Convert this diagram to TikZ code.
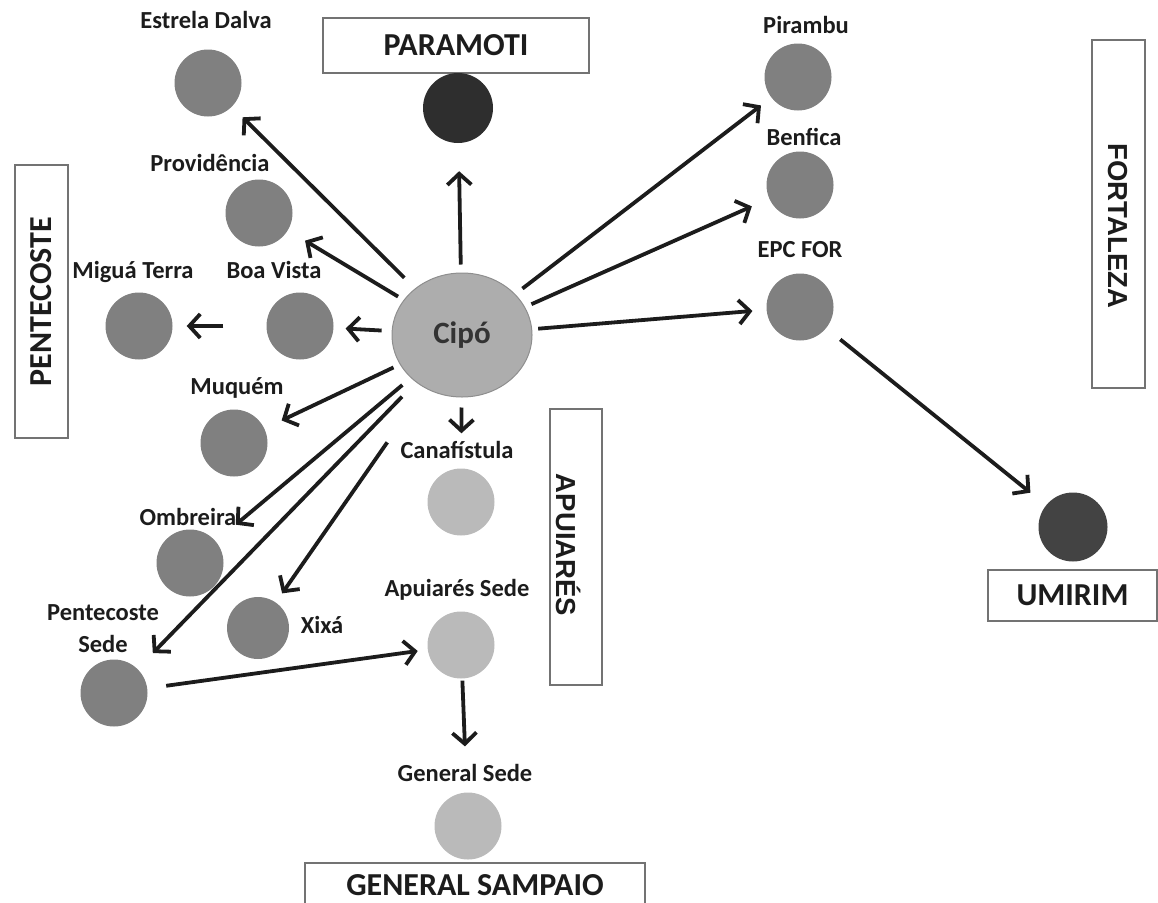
\documentclass[tikz,border=0pt]{standalone}
\usepackage{fontspec}
\setmainfont{Carlito}
\newfontfamily\arialfont{Liberation Sans}
\usepackage{xcolor}
\usetikzlibrary{arrows.meta,positioning,shapes.geometric}
\definecolor{midgray}{HTML}{808080}
\definecolor{lightgray}{HTML}{BABABA}
\definecolor{darkgray}{HTML}{2E2E2E}
\definecolor{cipofill}{HTML}{ADADAD}
\definecolor{cipoline}{HTML}{8E8E8E}
\definecolor{inkgray}{HTML}{1C1C1C}

\begin{document}
\begin{tikzpicture}[ x=1pt, y=-1pt, >={Straight Barb[length=11pt,width=24pt]},
      town/.style={circle, fill=midgray, minimum size=67pt, inner sep=0pt},
      lbl/.style={text=inkgray, inner sep=0pt, font=\bfseries\fontsize{24.5}{32}\selectfont},
      region/.style={draw=black!55, line width=1.6pt, fill=white, inner sep=0pt,
        text=inkgray, font=\bfseries\fontsize{32}{36}\selectfont},
      arialtext/.style={text=inkgray, inner sep=0pt, font=\arialfont\bfseries\fontsize{27.5}{30}\selectfont},
      arr/.style={->, line width=3.8pt, draw=inkgray} ]

      \useasboundingbox (0,0) rectangle (1158,902);

      % Municipality boxes
      \node[region, minimum width=266pt, minimum height=55pt] (paramoti) at (456,45.5) {PARAMOTI};
      \node[region, rotate=90, minimum width=273pt, minimum height=53pt] (pentecoste) at (41.5,301.5) {PENTECOSTE};
      \node[region, rotate=-90, minimum width=276pt, minimum height=52pt] (apuiaresbox) at (576,547) {};
      \node[arialtext, rotate=-90] (apuiares-t) at (569,545) {APUIARÉS};
      \node[region, rotate=-90, minimum width=348pt, minimum height=53pt] (fortaleza) at (1118.5,214) {};
      \node[arialtext, rotate=-90] (fortaleza-t) at (1118,226) {FORTALEZA};
      \node[region, minimum width=169pt, minimum height=51pt] (umirimbox) at (1072.5,595.5) {UMIRIM};
      \node[region, minimum width=340pt, minimum height=44pt] (generalbox) at (475,885) {GENERAL SAMPAIO};

      % Centre
      \node[ellipse, fill=cipofill, draw=cipoline, line width=1pt, minimum width=140pt,
        minimum height=124pt, inner sep=0pt, text=black!80,
        font=\bfseries\fontsize{31}{32}\selectfont] (cipo) at (462,335) {Cipó};

      % Towns
      \foreach \n/\x/\y in {estrela/208/83, pirambu/798/77, benfica/800/185, epcfor/800/307,
        providencia/259/213, migua/139/326, boavista/300/326, muquem/234/443,
        ombreira/190/563, pentsede/114/693}
        \node[town] (\n) at (\x,\y) {};
      \node[town, minimum size=62pt] (xixa) at (258,628) {};
      \node[town, fill=darkgray, minimum size=70pt] (pmt) at (458,108) {};
      \node[town, fill=darkgray!90!white, minimum size=69pt] (umirim) at (1073,527) {};
      \foreach \n/\x/\y in {canafistula/461/502, apuiares/461/645, general/468/826}
        \node[town, fill=lightgray] (\n) at (\x,\y) {};

      % Town names
      \node[lbl] (estrela-l) at (206,20) {Estrela Dalva};
      \node[lbl] (pirambu-l) at (806,25) {Pirambu};
      \node[lbl] (benfica-l) at (804,137) {Benfica};
      \node[lbl] (epcfor-l) at (800,250) {EPC FOR};
      \node[lbl] (providencia-l) at (210,163) {Providência};
      \node[lbl] (migua-l) at (133,272) {Miguá Terra};
      \node[lbl] (boavista-l) at (274,270) {Boa Vista};
      \node[lbl] (muquem-l) at (237,388) {Muquém};
      \node[lbl] (ombreira-l) at (188,517) {Ombreira};
      \node[lbl] (xixa-l) at (322,625) {Xixá};
      \node[lbl, align=center] (pentsede-l) at (103,629) {Pentecoste\\Sede};
      \node[lbl] (canafistula-l) at (457,450) {Canafístula};
      \node[lbl] (apuiares-l) at (457,590) {Apuiarés Sede};
      \node[lbl] (general-l) at (465,773) {General Sede};

      % Arrows out of Cipo
      \foreach \t/\a/\b in {estrela/15pt/15pt, pmt/8pt/28pt, pirambu/9pt/13pt,
        benfica/7pt/19pt, epcfor/6pt/14pt, providencia/6.5pt/20pt, boavista/10pt/12pt,
        muquem/7pt/19pt, ombreira/11pt/26pt, pentsede/20pt/22pt, xixa/66pt/11pt,
        canafistula/10pt/35pt}
        \draw[arr, shorten <=\a, shorten >=\b] (cipo) -- (\t);

      % Other arrows
      \draw[arr, shorten <=43pt, shorten >=14pt] (boavista) -- (migua);
      \draw[arr, shorten <=18pt, shorten >=20pt] (epcfor) -- (umirim);
      \draw[arr, shorten <=19pt, shorten >=10pt] (pentsede) -- (apuiares);
      \draw[arr, shorten <=2pt, shorten >=46pt] (apuiares) -- (general);
    \end{tikzpicture}
\end{document}
